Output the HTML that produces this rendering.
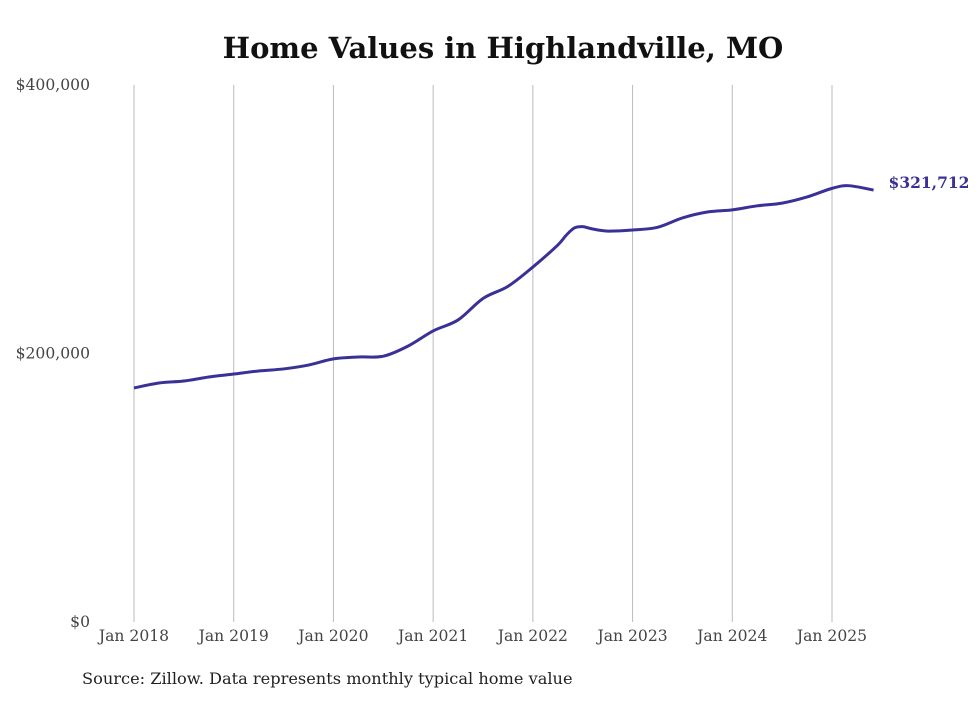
<!DOCTYPE html>
<html><head><meta charset="utf-8">
<style>
body{margin:0;background:#fff;width:980px;height:699px;overflow:hidden;font-family:"DejaVu Serif","Liberation Serif",serif;}
svg text{font-family:"DejaVu Serif","Liberation Serif",serif;}
</style></head>
<body>
<svg id="chart" width="980" height="699" xmlns="http://www.w3.org/2000/svg">
<text x="503" y="58" text-anchor="middle" font-size="29" font-weight="bold" fill="#111">Home Values in Highlandville, MO</text>
<g id="grid"></g>
<g id="yticks"></g>
<g id="xticks"></g>
<path id="line" fill="none" stroke="#3a3196" stroke-width="3"/>
<text id="endlabel" font-size="15.5" font-weight="bold" fill="#3a3196"></text>
<text x="82" y="684" font-size="16.2" fill="#222">Source: Zillow. Data represents monthly typical home value</text>
</svg>
<script>
// months since Jan 2018
const months = [0,3,6,9,12,15,18,21,24,27,30,33,36,39,42,45,48,51,52,53,54,55,57,60,63,66,69,72,75,78,81,84,86,89];
const values = [174300,178000,179500,182500,184700,187000,188500,191400,196000,197400,198000,205600,216800,225000,241000,250000,264400,280800,288000,293500,294500,293000,291200,292000,294000,301000,305400,307000,310000,312000,316600,323000,325000,321712];
const xTickLabels = ["Jan 2018","Jan 2019","Jan 2020","Jan 2021","Jan 2022","Jan 2023","Jan 2024","Jan 2025"];
const yTickValues = [0,200000,400000];
const yTickLabels = ["$0","$200,000","$400,000"];

const svg = document.getElementById('chart');
const NS = 'http://www.w3.org/2000/svg';
const x = m => 134 + m * (698 / 84);
const y = v => 622 - v * (537 / 400000);

const grid = document.getElementById('grid');
const xt = document.getElementById('xticks');
xTickLabels.forEach((lab, i) => {
  const gx = x(i * 12);
  const l = document.createElementNS(NS, 'line');
  
  
  l.setAttribute('x1', gx); l.setAttribute('x2', gx);
  l.setAttribute('y1', 85); l.setAttribute('y2', 622);
  l.setAttribute('stroke', '#bbb'); l.setAttribute('stroke-width', '1');
  grid.appendChild(l);
  const t = document.createElementNS(NS, 'text');
  
  
  t.setAttribute('x', gx); t.setAttribute('y', 641);
  t.setAttribute('text-anchor', 'middle');
  t.setAttribute('font-size', '15.6'); t.setAttribute('fill', '#444');
  t.textContent = lab;
  xt.appendChild(t);
});
const yt = document.getElementById('yticks');
yTickValues.forEach((v, i) => {
  const t = document.createElementNS(NS, 'text');
  
  
  t.setAttribute('x', 90); t.setAttribute('y', y(v) + 5);
  t.setAttribute('text-anchor', 'end');
  t.setAttribute('font-size', '15.6'); t.setAttribute('fill', '#444');
  t.textContent = yTickLabels[i];
  yt.appendChild(t);
});

// smooth path (Catmull-Rom)
const pts = months.map((m, i) => [x(m), y(values[i])]);
let d = 'M' + pts[0][0] + ',' + pts[0][1];
for (let i = 0; i < pts.length - 1; i++) {
  const p0 = pts[i - 1] || pts[i], p1 = pts[i], p2 = pts[i + 1], p3 = pts[i + 2] || p2;
  const c1 = [p1[0] + (p2[0] - p0[0]) / 6, p1[1] + (p2[1] - p0[1]) / 6];
  const c2 = [p2[0] - (p3[0] - p1[0]) / 6, p2[1] - (p3[1] - p1[1]) / 6];
  d += ' C' + c1 + ' ' + c2 + ' ' + p2;
}
document.getElementById('line').setAttribute('d', d);
const last = pts[pts.length - 1];
const el = document.getElementById('endlabel');
el.setAttribute('x', last[0] + 15); el.setAttribute('y', last[1] - 2);
el.textContent = '$' + values[values.length - 1].toLocaleString('en-US');
</script>
</body></html>
